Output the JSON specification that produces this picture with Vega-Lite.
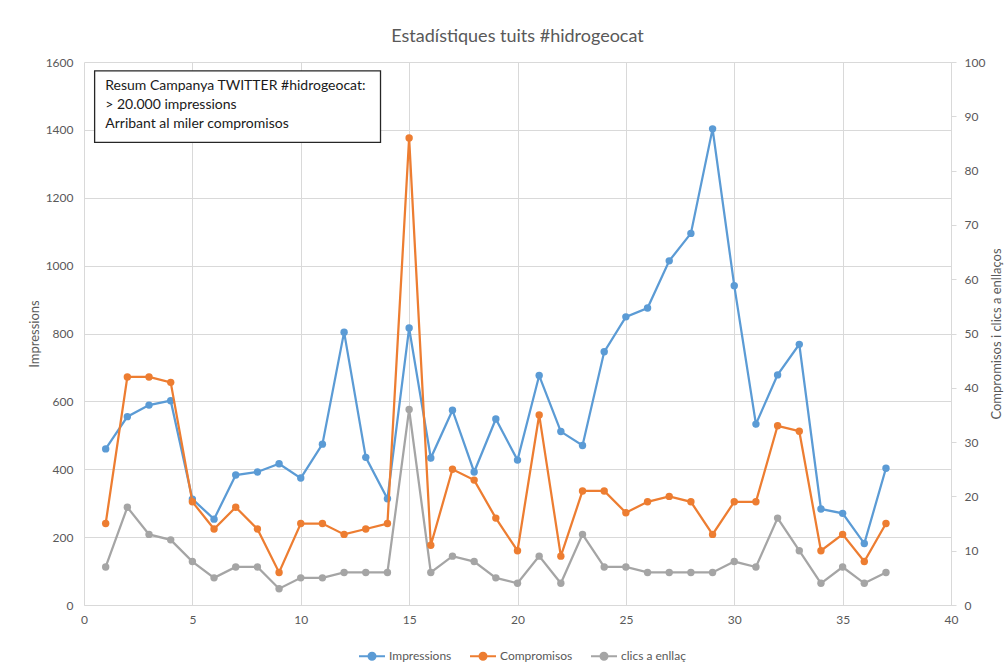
{
  "$schema": "https://vega.github.io/schema/vega-lite/v6.json",
  "width": 867,
  "height": 543,
  "autosize": {"type": "none"},
  "padding": {"left": 84, "top": 62, "right": 55, "bottom": 59},
  "background": "white",
  "title": {"text": "Estadístiques tuits #hidrogeocat", "fontSize": 18, "fontWeight": "normal", "color": "#595959", "font": "Lato", "offset": 10, "anchor": "middle"},
  "config": {
    "font": "Lato",
    "view": {"stroke": null},
    "axis": {"labelColor": "#595959", "titleColor": "#595959", "labelFontSize": 12, "titleFontSize": 13, "titleFontWeight": "normal", "gridColor": "#D9D9D9", "gridWidth": 1, "domainColor": "#D9D9D9", "tickColor": "#D9D9D9"},
    "legend": {"labelColor": "#595959", "labelFontSize": 12}
  },
  "data": {"values": [
    {"n": 1, "Impressions": 460, "Compromisos": 15, "clics a enllaç": 7},
    {"n": 2, "Impressions": 555, "Compromisos": 42, "clics a enllaç": 18},
    {"n": 3, "Impressions": 589, "Compromisos": 42, "clics a enllaç": 13},
    {"n": 4, "Impressions": 602, "Compromisos": 41, "clics a enllaç": 12},
    {"n": 5, "Impressions": 312, "Compromisos": 19, "clics a enllaç": 8},
    {"n": 6, "Impressions": 253, "Compromisos": 14, "clics a enllaç": 5},
    {"n": 7, "Impressions": 383, "Compromisos": 18, "clics a enllaç": 7},
    {"n": 8, "Impressions": 392, "Compromisos": 14, "clics a enllaç": 7},
    {"n": 9, "Impressions": 416, "Compromisos": 6, "clics a enllaç": 3},
    {"n": 10, "Impressions": 374, "Compromisos": 15, "clics a enllaç": 5},
    {"n": 11, "Impressions": 474, "Compromisos": 15, "clics a enllaç": 5},
    {"n": 12, "Impressions": 804, "Compromisos": 13, "clics a enllaç": 6},
    {"n": 13, "Impressions": 435, "Compromisos": 14, "clics a enllaç": 6},
    {"n": 14, "Impressions": 313, "Compromisos": 15, "clics a enllaç": 6},
    {"n": 15, "Impressions": 816, "Compromisos": 86, "clics a enllaç": 36},
    {"n": 16, "Impressions": 433, "Compromisos": 11, "clics a enllaç": 6},
    {"n": 17, "Impressions": 574, "Compromisos": 25, "clics a enllaç": 9},
    {"n": 18, "Impressions": 392, "Compromisos": 23, "clics a enllaç": 8},
    {"n": 19, "Impressions": 548, "Compromisos": 16, "clics a enllaç": 5},
    {"n": 20, "Impressions": 427, "Compromisos": 10, "clics a enllaç": 4},
    {"n": 21, "Impressions": 676, "Compromisos": 35, "clics a enllaç": 9},
    {"n": 22, "Impressions": 511, "Compromisos": 9, "clics a enllaç": 4},
    {"n": 23, "Impressions": 470, "Compromisos": 21, "clics a enllaç": 13},
    {"n": 24, "Impressions": 746, "Compromisos": 21, "clics a enllaç": 7},
    {"n": 25, "Impressions": 849, "Compromisos": 17, "clics a enllaç": 7},
    {"n": 26, "Impressions": 875, "Compromisos": 19, "clics a enllaç": 6},
    {"n": 27, "Impressions": 1014, "Compromisos": 20, "clics a enllaç": 6},
    {"n": 28, "Impressions": 1095, "Compromisos": 19, "clics a enllaç": 6},
    {"n": 29, "Impressions": 1403, "Compromisos": 13, "clics a enllaç": 6},
    {"n": 30, "Impressions": 941, "Compromisos": 19, "clics a enllaç": 8},
    {"n": 31, "Impressions": 533, "Compromisos": 19, "clics a enllaç": 7},
    {"n": 32, "Impressions": 678, "Compromisos": 33, "clics a enllaç": 16},
    {"n": 33, "Impressions": 768, "Compromisos": 32, "clics a enllaç": 10},
    {"n": 34, "Impressions": 283, "Compromisos": 10, "clics a enllaç": 4},
    {"n": 35, "Impressions": 270, "Compromisos": 13, "clics a enllaç": 7},
    {"n": 36, "Impressions": 181, "Compromisos": 8, "clics a enllaç": 4},
    {"n": 37, "Impressions": 403, "Compromisos": 15, "clics a enllaç": 6}
  ]},
  "layer": [
    {
      "layer": [
        {
          "transform": [
            {"fold": ["Impressions", "Compromisos", "clics a enllaç"], "as": ["serie", "valor"]},
            {"filter": "datum.serie === 'Impressions'"}
          ],
          "mark": {"type": "line", "strokeWidth": 2.25, "point": {"filled": true, "size": 55, "opacity": 1}},
          "encoding": {
            "x": {"field": "n", "type": "quantitative", "scale": {"domain": [0, 40], "nice": false, "zero": false},
                  "axis": {"title": null, "values": [0, 5, 10, 15, 20, 25, 30, 35, 40], "grid": true, "ticks": false, "tickSize": 0, "labelPadding": 9, "domain": true, "labelFlush": false}},
            "y": {"field": "valor", "type": "quantitative", "scale": {"domain": [0, 1600], "nice": false},
                  "axis": {"title": "Impressions", "format": "d", "values": [0, 200, 400, 600, 800, 1000, 1200, 1400, 1600], "grid": true, "ticks": false, "tickSize": 0, "domain": false, "labelPadding": 11, "titlePadding": 4}},
            "color": {"field": "serie", "type": "nominal",
                      "scale": {"domain": ["Impressions", "Compromisos", "clics a enllaç"], "range": ["#5B9BD5", "#ED7D31", "#A5A5A5"]},
                      "legend": {"title": null, "orient": "none", "direction": "horizontal", "legendX": 274, "legendY": 580,
                                 "symbolType": "M-1,0L1,0M-0.27,0A0.27,0.27,0,1,1,0.27,0A0.27,0.27,0,1,1,-0.27,0Z",
                                 "symbolSize": 676, "symbolStrokeWidth": 2, "labelOffset": 3, "columnPadding": 14,
                                 "encode": {"symbols": {"update": {"fill": {"scale": "color", "field": "value"}, "stroke": {"scale": "color", "field": "value"}}}}}}
          }
        },
        {
          "data": {"values": [{}]},
          "mark": {"type": "rect", "fill": "white", "stroke": "#262626", "strokeWidth": 1.3},
          "encoding": {
            "x": {"datum": 0.49, "type": "quantitative"},
            "x2": {"datum": 13.68},
            "y": {"datum": 1574, "type": "quantitative"},
            "y2": {"datum": 1363}
          }
        },
        {
          "data": {"values": [{}]},
          "mark": {"type": "text", "text": ["Resum Campanya TWITTER #hidrogeocat:", "> 20.000 impressions", "Arribant al miler compromisos"], "align": "left", "baseline": "alphabetic", "fontSize": 14, "lineHeight": 18.8, "color": "#1a1a1a", "font": "Lato"},
          "encoding": {
            "x": {"datum": 0.98, "type": "quantitative"},
            "y": {"datum": 1517, "type": "quantitative"}
          }
        }
      ]
    },
    {
      "transform": [
        {"fold": ["Impressions", "Compromisos", "clics a enllaç"], "as": ["serie", "valor"]},
        {"filter": "datum.serie !== 'Impressions'"}
      ],
      "mark": {"type": "line", "strokeWidth": 2.25, "point": {"filled": true, "size": 55, "opacity": 1}},
      "encoding": {
        "x": {"field": "n", "type": "quantitative"},
        "y": {"field": "valor", "type": "quantitative", "scale": {"domain": [0, 100], "nice": false},
              "axis": {"orient": "right", "title": "Compromisos i clics a enllaços", "values": [0, 10, 20, 30, 40, 50, 60, 70, 80, 90, 100], "grid": false, "ticks": true, "tickSize": 5, "domain": true, "labelPadding": 8, "titlePadding": 6, "titleAngle": 270, "titleBaseline": "top"}},
        "color": {"field": "serie", "type": "nominal"}
      }
    }
  ],
  "resolve": {"scale": {"y": "independent"}}
}
